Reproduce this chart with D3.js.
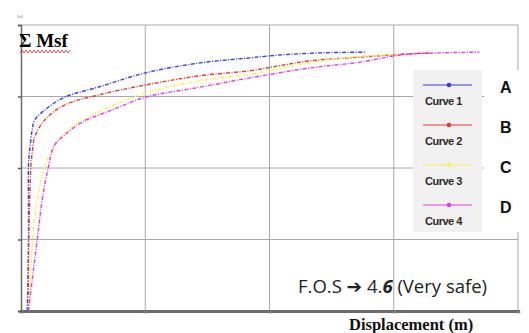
<!DOCTYPE html>
<html>
<head>
<meta charset="utf-8">
<script src="https://cdn.jsdelivr.net/npm/d3@7"></script>
<style>
  body { margin: 0; background: #fff; }
  svg { display: block; }
</style>
</head>
<body>
<svg id="chart"></svg>
<script>
// displacement (m) vs sum of Msf
const curve1 = [[0.005,1.00],[0.006,1.85],[0.006,2.55],[0.006,3.04],[0.007,3.25],[0.009,3.53],[0.011,3.67],[0.019,3.81],[0.035,3.99],[0.062,4.13],[0.100,4.33],[0.144,4.47],[0.184,4.54],[0.208,4.58],[0.241,4.61],[0.278,4.62]];
const curve2 = [[0.006,1.00],[0.006,1.85],[0.007,2.55],[0.008,3.04],[0.009,3.21],[0.011,3.43],[0.019,3.67],[0.035,3.88],[0.062,4.02],[0.100,4.16],[0.144,4.29],[0.184,4.36],[0.208,4.43],[0.233,4.50],[0.273,4.55],[0.305,4.59],[0.329,4.61]];
const curve3 = [[0.006,1.00],[0.008,1.57],[0.010,2.13],[0.013,2.55],[0.017,2.90],[0.021,3.11],[0.030,3.39],[0.043,3.60],[0.062,3.78],[0.100,4.05],[0.144,4.22],[0.184,4.31],[0.225,4.45],[0.265,4.55],[0.305,4.59]];
const curve4 = [[0.006,1.00],[0.010,1.57],[0.014,2.13],[0.017,2.55],[0.022,3.01],[0.027,3.32],[0.035,3.46],[0.049,3.64],[0.073,3.81],[0.100,3.99],[0.144,4.13],[0.184,4.26],[0.233,4.40],[0.273,4.48],[0.305,4.58],[0.337,4.61],[0.369,4.62]];

const seriesNames = ['Curve 1', 'Curve 2', 'Curve 3', 'Curve 4'];
const seriesLetters = ['A', 'B', 'C', 'D'];
const seriesColors = ['#3b3bdc', '#e23a32', '#f7f25a', '#e23ee6'];
const xTicks = [0, 0.1, 0.2, 0.3, 0.4];
const yTicks = [1, 2, 3, 4, 5];

const width = 529, height = 333;
const svg = d3.select('#chart').attr('width', width).attr('height', height);

const x = d3.scaleLinear([0, 0.4], [21, 518]);
const y = d3.scaleLinear([1, 5], [311, 25]);

/**
 * grid
 */
const grid = svg.append('g').attr('stroke', '#a8a8a8').attr('stroke-width', 1);
grid.selectAll('.gx')
  .data(xTicks.slice(1))
  .join('line')
  .attr('x1', (d) => x(d)).attr('x2', (d) => x(d))
  .attr('y1', y(5)).attr('y2', y(1));
grid.selectAll('.gy')
  .data(yTicks.slice(1))
  .join('line')
  .attr('x1', x(0)).attr('x2', x(0.4))
  .attr('y1', (d) => y(d)).attr('y2', (d) => y(d));

/**
 * axes
 */
const xAxis = d3.axisBottom(x).tickValues(xTicks).tickSize(2).tickPadding(0).tickFormat(d3.format('.1f'));
svg.append('g')
  .attr('transform', `translate(0,${y(1)})`)
  .call(xAxis)
  .call((g) => g.select('.domain').attr('stroke', '#6b6b6b').attr('stroke-width', 3))
  .call((g) => g.selectAll('.tick line').attr('stroke', '#999'))
  .call((g) => g.selectAll('.tick text').attr('font-size', 3).attr('dy', '0.3em').attr('fill', '#888'));

const yAxis = d3.axisLeft(y).tickValues(yTicks).tickSize(3).tickFormat(() => '');
svg.append('g')
  .attr('transform', `translate(${x(0)},0)`)
  .call(yAxis)
  .call((g) => g.select('.domain').attr('stroke', '#6b6b6b').attr('stroke-width', 1.5))
  .call((g) => g.selectAll('.tick line').attr('stroke', '#555').attr('stroke-width', 1.5));

/**
 * curves
 */
const line = d3.line()
  .curve(d3.curveCatmullRom.alpha(0.5))
  .x((d) => x(d[0]))
  .y((d) => y(d[1]));
[curve1, curve2, curve3, curve4].forEach((data, i) => {
  svg.append('path')
    .attr('fill', 'none')
    .attr('stroke', seriesColors[i])
    .attr('stroke-width', 1.4)
    .attr('stroke-dasharray', '4,1.5,1,1.5')
    .attr('d', line(data));
});

/**
 * legend box + letters
 */
svg.append('rect').attr('x', 484).attr('y', 70).attr('width', 45).attr('height', 162).attr('fill', '#fff');
const legend = svg.append('g');
legend.append('rect')
  .attr('x', 413).attr('y', 70).attr('width', 69).attr('height', 162)
  .attr('fill', '#f1f1f1');
seriesNames.forEach((name, i) => {
  const ly = 85 + i * 40;
  legend.append('line')
    .attr('x1', 423).attr('x2', 472).attr('y1', ly).attr('y2', ly)
    .attr('stroke', seriesColors[i]).attr('stroke-width', 1.2);
  legend.append('circle')
    .attr('cx', 449).attr('cy', ly).attr('r', 2.3)
    .attr('fill', seriesColors[i]);
  legend.append('text')
    .attr('x', 425).attr('y', ly + 20)
    .attr('font-family', 'Liberation Sans, Arial, sans-serif')
    .attr('font-size', 11).attr('font-weight', 'bold').attr('letter-spacing', -0.5)
    .attr('fill', '#2a2a2a')
    .text(name);
  legend.append('text')
    .attr('x', 500).attr('y', ly + 8)
    .attr('font-family', 'Liberation Sans, Arial, sans-serif')
    .attr('font-weight', 'bold').attr('font-size', 16)
    .attr('fill', '#111')
    .text(seriesLetters[i]);
});

/**
 * labels
 */
svg.append('text')
  .attr('x', 19).attr('y', 47)
  .attr('font-family', 'Liberation Serif, Times New Roman, serif')
  .attr('font-weight', 'bold').attr('font-size', 19)
  .text('Σ Msf');
// red squiggle under the title
const squiggle = d3.range(0, 26).map((i) => [20 + i * 2, i % 2 ? 50 : 53]);
svg.append('path')
  .attr('fill', 'none').attr('stroke', '#d42020').attr('stroke-width', 0.8)
  .attr('d', d3.line()(squiggle));
svg.append('text')
  .attr('x', 17).attr('y', 18)
  .attr('font-size', 4).attr('fill', '#555')
  .text('1e6');

const fos = svg.append('text')
  .attr('x', 298).attr('y', 293)
  .attr('font-family', 'Open Sans, Liberation Sans, sans-serif')
  .attr('font-size', 18.5).attr('fill', '#222');
fos.append('tspan').text('F.O.S ');
fos.append('tspan').attr('font-family', 'DejaVu Sans').attr('font-weight', 'bold').text('➔');
fos.append('tspan').text(' 4.');
fos.append('tspan').attr('font-style', 'italic').attr('font-weight', 'bold').text('6');
fos.append('tspan').text(' (Very safe)');

svg.append('text')
  .attr('x', 349).attr('y', 329.5)
  .attr('font-family', 'Liberation Serif, Times New Roman, serif')
  .attr('font-weight', 'bold').attr('font-size', 16.5)
  .attr('fill', '#111')
  .text('Displacement (m)');
</script>
</body>
</html>
